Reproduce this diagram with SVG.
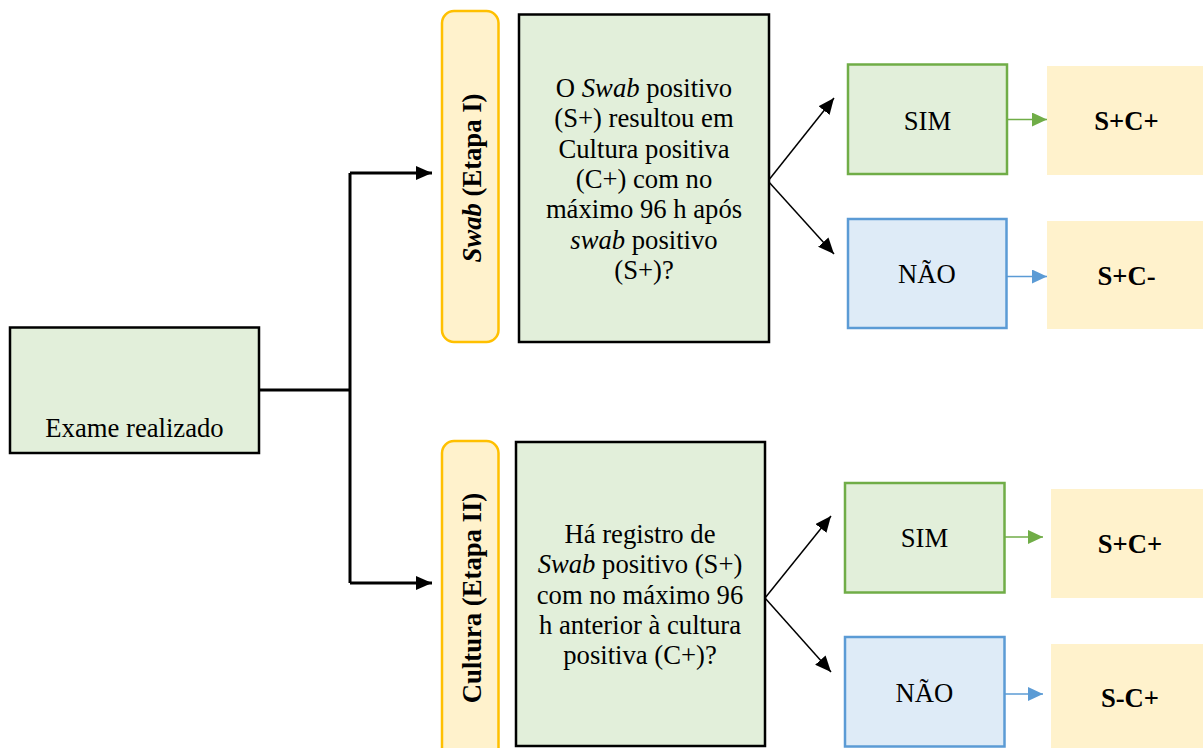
<svg xmlns="http://www.w3.org/2000/svg" width="1203" height="748" viewBox="0 0 1203 748">
<style>
  text { font-family: 'Liberation Serif', 'Times New Roman', serif; font-size: 26.67px; fill: #000; text-anchor: middle; }
  .b { font-weight: bold; }
  .i { font-style: italic; }
  .q { fill: #E2EFDA; stroke: #000; stroke-width: 2.5; }
  .pill { fill: #FFF2CC; stroke: #FFC000; stroke-width: 2.5; }
  .sim { fill: #E2EFDA; stroke: #70AD47; stroke-width: 2.5; }
  .nao { fill: #DEEBF7; stroke: #5B9BD5; stroke-width: 2.5; }
  .res { fill: #FFF2CC; stroke: none; }
  .main { fill: none; stroke: #000; stroke-width: 3; }
  .diag { fill: none; stroke: #000; stroke-width: 1.5; }
  .ga { fill: none; stroke: #70AD47; stroke-width: 1.5; }
  .ba { fill: none; stroke: #5B9BD5; stroke-width: 1.5; }
</style>
<defs>
  <marker id="mBig" markerUnits="userSpaceOnUse" markerWidth="16" markerHeight="14" refX="16" refY="7" orient="auto">
    <path d="M0,0 L16,7 L0,14 z" fill="#000"/>
  </marker>
  <marker id="mThin" markerUnits="userSpaceOnUse" markerWidth="16" markerHeight="14" refX="16" refY="7" orient="auto">
    <path d="M0,0 L16,7 L0,14 z" fill="#000"/>
  </marker>
  <marker id="mGreen" markerUnits="userSpaceOnUse" markerWidth="15" markerHeight="14" refX="15" refY="7" orient="auto">
    <path d="M0,0 L15,7 L0,14 z" fill="#70AD47"/>
  </marker>
  <marker id="mBlue" markerUnits="userSpaceOnUse" markerWidth="15" markerHeight="14" refX="15" refY="7" orient="auto">
    <path d="M0,0 L15,7 L0,14 z" fill="#5B9BD5"/>
  </marker>
</defs>
<rect width="1203" height="748" fill="#fff"/>

<g id="connectors">
  <path class="main" d="M259,390 H350"/>
  <path class="main" d="M350,173 V583"/>
  <path class="main" d="M350,173 H432" marker-end="url(#mBig)"/>
  <path class="main" d="M350,583 H432" marker-end="url(#mBig)"/>
  <path class="diag" d="M768,181 L834,98" marker-end="url(#mThin)"/>
  <path class="diag" d="M768,181 L834,254" marker-end="url(#mThin)"/>
  <path class="diag" d="M765,598 L831,516" marker-end="url(#mThin)"/>
  <path class="diag" d="M765,598 L831,672" marker-end="url(#mThin)"/>
  <path class="ga" d="M1007,119.5 H1047" marker-end="url(#mGreen)"/>
  <path class="ba" d="M1007,276.5 H1047" marker-end="url(#mBlue)"/>
  <path class="ga" d="M1004,537 H1043" marker-end="url(#mGreen)"/>
  <path class="ba" d="M1004,694 H1043" marker-end="url(#mBlue)"/>
</g>

<g id="exame">
  <rect class="q" x="10" y="327.5" width="249" height="125.5"/>
  <text x="134.5" y="437">Exame realizado</text>
</g>

<g id="etapa1">
  <rect class="pill" x="442" y="11" width="56.5" height="331" rx="12" ry="12"/>
  <text class="b" transform="translate(481,178) rotate(-90)"><tspan class="i">Swab</tspan> (Etapa I)</text>
</g>

<g id="etapa2">
  <rect class="pill" x="442" y="441" width="56.5" height="330" rx="12" ry="12"/>
  <text class="b" transform="translate(481,598) rotate(-90)">Cultura (Etapa II)</text>
</g>

<g id="pergunta1">
  <rect class="q" x="519" y="14.5" width="250" height="327.5"/>
  <text x="644" y="97">O <tspan class="i">Swab</tspan> positivo</text>
  <text x="644" y="127.3">(S+) resultou em</text>
  <text x="644" y="157.6">Cultura positiva</text>
  <text x="644" y="187.9">(C+) com no</text>
  <text x="644" y="218.2">máximo 96 h após</text>
  <text x="644" y="248.5"><tspan class="i">swab</tspan> positivo</text>
  <text x="644" y="278.8">(S+)?</text>
</g>

<g id="pergunta2">
  <rect class="q" x="516" y="442" width="249" height="304"/>
  <text x="640" y="543">Há registro de</text>
  <text x="640" y="573.3"><tspan class="i">Swab</tspan> positivo (S+)</text>
  <text x="640" y="603.6">com no máximo 96</text>
  <text x="640" y="633.9">h anterior à cultura</text>
  <text x="640" y="664.2">positiva (C+)?</text>
</g>

<g id="sim1">
  <rect class="sim" x="848" y="64.5" width="159" height="109.5"/>
  <text x="927.5" y="129.5">SIM</text>
</g>
<g id="nao1">
  <rect class="nao" x="848" y="219" width="158.5" height="109"/>
  <text x="927" y="283">NÃO</text>
</g>
<g id="res1">
  <rect class="res" x="1047" y="66" width="156" height="109"/>
  <text class="b" x="1126.5" y="130">S+C+</text>
</g>
<g id="res2">
  <rect class="res" x="1047" y="221" width="156" height="108"/>
  <text class="b" x="1126.5" y="285">S+C-</text>
</g>

<g id="sim2">
  <rect class="sim" x="845" y="483" width="159.5" height="109.5"/>
  <text x="924.5" y="546.5">SIM</text>
</g>
<g id="nao2">
  <rect class="nao" x="845" y="637" width="159.5" height="109.5"/>
  <text x="924.5" y="701.5">NÃO</text>
</g>
<g id="res3">
  <rect class="res" x="1051" y="489" width="152" height="109"/>
  <text class="b" x="1130" y="553">S+C+</text>
</g>
<g id="res4">
  <rect class="res" x="1051" y="644" width="152" height="104"/>
  <text class="b" x="1130" y="707">S-C+</text>
</g>
</svg>
